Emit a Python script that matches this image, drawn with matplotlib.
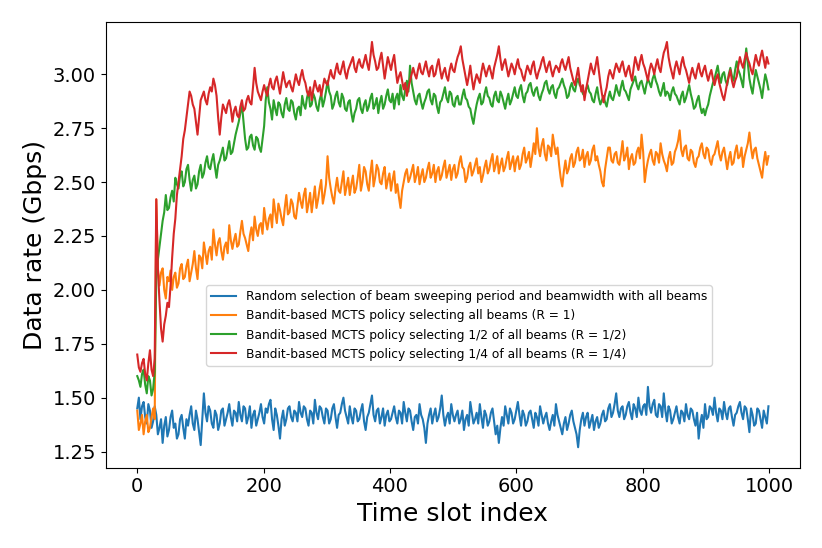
import numpy as np
import matplotlib
matplotlib.use("Agg")
import matplotlib.pyplot as plt

labels = [
    "Random selection of beam sweeping period and beamwidth with all beams",
    "Bandit-based MCTS policy selecting all beams (R = 1)",
    "Bandit-based MCTS policy selecting 1/2 of all beams (R = 1/2)",
    "Bandit-based MCTS policy selecting 1/4 of all beams (R = 1/4)",
]
colors = ["#1f77b4", "#ff7f0e", "#2ca02c", "#d62728"]

# Values read at every ~5th slot ("_a") and the in-between slots ("_b")
random_rate_a = [
    1.45, 1.40, 1.48, 1.38, 1.44, 1.39, 1.42, 1.36, 1.29, 1.41,
    1.35, 1.44, 1.38, 1.33, 1.42, 1.31, 1.37, 1.46, 1.35, 1.40,
    1.28, 1.52, 1.39, 1.44, 1.36, 1.42, 1.38, 1.45, 1.40, 1.47,
    1.37, 1.43, 1.48, 1.39, 1.45, 1.41, 1.36, 1.44, 1.40, 1.47,
    1.38, 1.43, 1.49, 1.35, 1.42, 1.31, 1.44, 1.40, 1.46, 1.39,
    1.43, 1.48, 1.41, 1.45, 1.37, 1.43, 1.49, 1.40, 1.45, 1.38,
    1.44, 1.40, 1.47, 1.36, 1.43, 1.50, 1.41, 1.46, 1.38, 1.44,
    1.40, 1.47, 1.35, 1.43, 1.51, 1.39, 1.45, 1.41, 1.37, 1.44,
    1.40, 1.46, 1.38, 1.43, 1.48, 1.39, 1.44, 1.35, 1.42, 1.47,
    1.40, 1.29, 1.42, 1.38, 1.45, 1.41, 1.51, 1.37, 1.43, 1.47,
    1.39, 1.44, 1.40, 1.35, 1.42, 1.48, 1.38, 1.43, 1.47, 1.36,
    1.42, 1.39, 1.45, 1.33, 1.29, 1.41, 1.46, 1.38, 1.43, 1.40,
    1.48, 1.37, 1.42, 1.39, 1.44, 1.36, 1.41, 1.46, 1.38, 1.43,
    1.35, 1.42, 1.47, 1.39, 1.33, 1.41, 1.38, 1.44, 1.36, 1.27,
    1.40, 1.37, 1.43, 1.39, 1.35, 1.41, 1.38, 1.44, 1.40, 1.47,
    1.43, 1.52, 1.41, 1.46, 1.42, 1.48, 1.40, 1.45, 1.50, 1.42,
    1.47, 1.55, 1.43, 1.49, 1.41, 1.46, 1.52, 1.39, 1.44, 1.40,
    1.46, 1.38, 1.43, 1.47, 1.40, 1.44, 1.37, 1.31, 1.42, 1.47,
    1.41, 1.45, 1.50, 1.39, 1.44, 1.48, 1.40, 1.46, 1.37, 1.43,
    1.48, 1.40, 1.45, 1.34, 1.42, 1.38, 1.44, 1.36, 1.41, 1.46,
]
random_rate_b = [
    1.50, 1.46, 1.41, 1.47, 1.36, 1.46, 1.33, 1.40, 1.37, 1.32,
    1.41, 1.36, 1.31, 1.40, 1.36, 1.40, 1.42, 1.38, 1.44, 1.34,
    1.40, 1.43, 1.46, 1.38, 1.44, 1.35, 1.44, 1.37, 1.43, 1.41,
    1.44, 1.39, 1.42, 1.46, 1.38, 1.46, 1.42, 1.37, 1.43, 1.41,
    1.45, 1.47, 1.40, 1.45, 1.37, 1.40, 1.37, 1.45, 1.41, 1.44,
    1.39, 1.43, 1.46, 1.40, 1.44, 1.38, 1.43, 1.46, 1.41, 1.45,
    1.38, 1.45, 1.41, 1.42, 1.47, 1.44, 1.38, 1.41, 1.45, 1.39,
    1.44, 1.39, 1.41, 1.47, 1.42, 1.44, 1.38, 1.45, 1.42, 1.39,
    1.43, 1.41, 1.44, 1.38, 1.43, 1.45, 1.39, 1.41, 1.38, 1.42,
    1.36, 1.38, 1.45, 1.42, 1.39, 1.45, 1.42, 1.41, 1.38, 1.42,
    1.42, 1.38, 1.44, 1.40, 1.37, 1.43, 1.40, 1.38, 1.41, 1.44,
    1.37, 1.43, 1.39, 1.37, 1.36, 1.37, 1.42, 1.45, 1.38, 1.44,
    1.42, 1.44, 1.37, 1.43, 1.40, 1.43, 1.37, 1.42, 1.41, 1.38,
    1.39, 1.37, 1.42, 1.36, 1.38, 1.35, 1.42, 1.39, 1.33, 1.35,
    1.43, 1.41, 1.36, 1.42, 1.39, 1.36, 1.42, 1.39, 1.45, 1.41,
    1.47, 1.44, 1.45, 1.40, 1.46, 1.43, 1.47, 1.41, 1.44, 1.46,
    1.42, 1.46, 1.47, 1.42, 1.47, 1.41, 1.44, 1.46, 1.38, 1.43,
    1.41, 1.44, 1.39, 1.42, 1.45, 1.40, 1.43, 1.38, 1.36, 1.40,
    1.46, 1.42, 1.43, 1.45, 1.40, 1.43, 1.45, 1.41, 1.42, 1.46,
    1.43, 1.46, 1.40, 1.45, 1.37, 1.45, 1.40, 1.44, 1.38,
]

mcts_r1_a = [
    1.44, 1.38, 1.33, 1.42, 1.36, 1.45, 2.42, 2.02, 2.10, 1.96,
    2.04, 2.00, 2.08, 2.03, 2.12, 2.06, 2.14, 2.08, 2.18, 2.05,
    2.15, 2.22, 2.12, 2.20, 2.28, 2.16, 2.24, 2.14, 2.22, 2.30,
    2.19, 2.26, 2.21, 2.32, 2.24, 2.18, 2.29, 2.34, 2.25, 2.31,
    2.38, 2.28, 2.35, 2.42, 2.31, 2.37, 2.30, 2.44, 2.36, 2.40,
    2.33, 2.45, 2.38, 2.47, 2.40, 2.36, 2.48, 2.42, 2.51, 2.44,
    2.62, 2.47, 2.40, 2.52, 2.45, 2.55, 2.48, 2.44, 2.53, 2.47,
    2.58, 2.50, 2.55, 2.46, 2.60, 2.52, 2.56, 2.49, 2.57, 2.51,
    2.46, 2.55, 2.49, 2.38, 2.50, 2.56, 2.52, 2.58, 2.53, 2.49,
    2.56, 2.52, 2.59, 2.54, 2.50, 2.57, 2.53, 2.60, 2.55, 2.51,
    2.58, 2.54, 2.62, 2.56, 2.52, 2.59, 2.55, 2.61, 2.57, 2.53,
    2.60, 2.56, 2.63, 2.58, 2.54, 2.61, 2.57, 2.64, 2.59, 2.55,
    2.62, 2.58, 2.66, 2.61, 2.57, 2.68, 2.75, 2.62, 2.70, 2.60,
    2.66, 2.72, 2.63, 2.58, 2.48, 2.60, 2.56, 2.63, 2.59, 2.66,
    2.61, 2.57, 2.64, 2.60, 2.67, 2.62, 2.55, 2.48, 2.61, 2.66,
    2.59, 2.64, 2.58, 2.69, 2.62, 2.56, 2.63, 2.59, 2.66, 2.72,
    2.50, 2.60, 2.65, 2.58, 2.63, 2.68, 2.60, 2.55, 2.64, 2.59,
    2.66, 2.74, 2.62, 2.67, 2.60, 2.64, 2.57, 2.62, 2.68, 2.61,
    2.65, 2.58, 2.63, 2.69, 2.60, 2.66, 2.56, 2.64, 2.59, 2.67,
    2.62, 2.57, 2.65, 2.73, 2.61, 2.66, 2.58, 2.52, 2.64, 2.62,
]
mcts_r1_b = [
    1.35, 1.42, 1.39, 1.34, 1.41, 1.40, 2.10, 2.08, 2.00, 2.06,
    2.09, 2.06, 2.01, 2.10, 2.05, 2.11, 2.04, 2.12, 2.10, 2.16,
    2.10, 2.17, 2.18, 2.14, 2.21, 2.22, 2.18, 2.20, 2.17, 2.23,
    2.23, 2.20, 2.27, 2.26, 2.21, 2.25, 2.23, 2.28, 2.30, 2.26,
    2.32, 2.33, 2.29, 2.36, 2.40, 2.33, 2.38, 2.35, 2.42, 2.34,
    2.39, 2.41, 2.44, 2.36, 2.45, 2.42, 2.38, 2.47, 2.40, 2.49,
    2.52, 2.43, 2.47, 2.46, 2.50, 2.44, 2.52, 2.49, 2.45, 2.52,
    2.46, 2.57, 2.49, 2.54, 2.48, 2.58, 2.50, 2.54, 2.47, 2.54,
    2.51, 2.45, 2.43, 2.46, 2.54, 2.50, 2.55, 2.50, 2.57, 2.53,
    2.50, 2.56, 2.52, 2.58, 2.55, 2.51, 2.57, 2.52, 2.58, 2.56,
    2.52, 2.59, 2.57, 2.50, 2.57, 2.53, 2.58, 2.54, 2.50, 2.57,
    2.54, 2.60, 2.55, 2.62, 2.58, 2.55, 2.61, 2.56, 2.62, 2.60,
    2.56, 2.63, 2.59, 2.64, 2.62, 2.63, 2.66, 2.67, 2.63, 2.67,
    2.62, 2.67, 2.66, 2.52, 2.55, 2.54, 2.61, 2.57, 2.64, 2.60,
    2.65, 2.62, 2.58, 2.65, 2.60, 2.58, 2.50, 2.56, 2.66, 2.60,
    2.63, 2.59, 2.63, 2.60, 2.66, 2.61, 2.58, 2.64, 2.61, 2.64,
    2.56, 2.63, 2.60, 2.64, 2.59, 2.63, 2.58, 2.61, 2.58, 2.64,
    2.69, 2.65, 2.66, 2.61, 2.65, 2.59, 2.61, 2.66, 2.63, 2.66,
    2.60, 2.62, 2.66, 2.63, 2.64, 2.61, 2.61, 2.58, 2.64, 2.61,
    2.66, 2.62, 2.68, 2.66, 2.65, 2.61, 2.55, 2.59, 2.58,
]

mcts_r_half_a = [
    1.60, 1.55, 1.63, 1.52, 1.58, 1.54, 2.05, 2.20, 2.32, 2.44,
    2.38, 2.46, 2.52, 2.47, 2.55, 2.50, 2.58, 2.46, 2.53, 2.49,
    2.58, 2.54, 2.62, 2.56, 2.63, 2.52, 2.60, 2.66, 2.61, 2.69,
    2.64, 2.72, 2.78, 2.86, 2.70, 2.66, 2.72, 2.65, 2.70, 2.64,
    2.76, 2.94, 2.84, 2.88, 2.81, 2.86, 2.80, 2.89, 2.83, 2.87,
    2.79, 2.85, 2.90, 2.84, 2.92, 2.86, 2.89, 2.83, 2.91, 2.88,
    2.97, 2.90, 2.86, 2.92, 2.85, 2.89, 2.83, 2.88, 2.78, 2.84,
    2.89, 2.82, 2.88, 2.85, 2.91, 2.86, 2.82, 2.90, 2.86, 2.93,
    2.87, 2.84, 2.91, 2.95, 2.88, 2.97, 3.04, 2.92, 2.86, 2.91,
    2.84, 2.89, 2.93, 2.86, 2.90, 2.82, 2.88, 2.94, 2.87, 2.91,
    2.85, 2.90, 2.86, 2.93, 2.88, 2.84, 2.77, 2.86, 2.91, 2.87,
    2.94, 2.89, 2.85, 2.92, 2.87, 2.90, 2.84, 2.91, 2.88, 2.94,
    2.89, 2.95, 2.87, 2.92, 2.96, 2.90, 2.94, 2.88, 2.93, 2.97,
    2.91, 2.95, 2.89, 2.94, 2.98, 2.93, 2.90, 2.96, 2.92, 2.98,
    2.94, 2.90, 2.95, 2.91, 2.87, 2.94, 2.86, 2.90, 2.85, 2.92,
    2.88, 2.95, 2.90, 2.97, 2.92, 2.88, 2.95, 2.99, 2.93, 2.97,
    2.91, 2.98, 2.94, 3.00, 2.95, 2.90, 2.96, 2.92, 2.88, 2.94,
    2.90, 2.86, 2.92, 2.89, 2.95, 2.88, 2.85, 2.90, 2.82, 2.81,
    2.86, 2.93, 2.98, 3.04, 2.96, 3.01, 2.95, 3.03, 2.97, 3.06,
    3.00, 2.94, 3.12, 2.98, 2.91, 3.02, 2.96, 2.89, 3.00, 2.93,
]
mcts_r_half_b = [
    1.58, 1.61, 1.56, 1.60, 1.51, 1.62, 2.14, 2.26, 2.36, 2.37,
    2.43, 2.41, 2.49, 2.53, 2.48, 2.56, 2.51, 2.51, 2.47, 2.55,
    2.52, 2.59, 2.57, 2.60, 2.57, 2.58, 2.63, 2.60, 2.65, 2.63,
    2.68, 2.75, 2.82, 2.78, 2.65, 2.71, 2.67, 2.71, 2.66, 2.70,
    2.88, 2.87, 2.79, 2.84, 2.87, 2.82, 2.86, 2.84, 2.88, 2.82,
    2.84, 2.81, 2.86, 2.89, 2.85, 2.91, 2.85, 2.88, 2.85, 2.92,
    2.92, 2.84, 2.90, 2.87, 2.91, 2.84, 2.87, 2.82, 2.82, 2.88,
    2.84, 2.86, 2.83, 2.89, 2.84, 2.89, 2.87, 2.84, 2.90, 2.88,
    2.91, 2.89, 2.86, 2.90, 2.93, 2.92, 2.96, 2.88, 2.90, 2.87,
    2.87, 2.92, 2.88, 2.91, 2.85, 2.87, 2.91, 2.89, 2.92, 2.86,
    2.89, 2.86, 2.90, 2.89, 2.85, 2.80, 2.82, 2.89, 2.86, 2.91,
    2.90, 2.86, 2.90, 2.88, 2.92, 2.87, 2.88, 2.86, 2.91, 2.90,
    2.93, 2.90, 2.91, 2.95, 2.92, 2.93, 2.90, 2.91, 2.96, 2.93,
    2.94, 2.91, 2.93, 2.96, 2.95, 2.89, 2.94, 2.93, 2.96, 2.95,
    2.91, 2.93, 2.92, 2.88, 2.91, 2.89, 2.88, 2.87, 2.89, 2.89,
    2.91, 2.92, 2.94, 2.93, 2.90, 2.93, 2.97, 2.95, 2.96, 2.94,
    2.95, 2.96, 2.98, 2.97, 2.92, 2.93, 2.90, 2.91, 2.92, 2.91,
    2.88, 2.90, 2.87, 2.92, 2.91, 2.84, 2.88, 2.85, 2.84, 2.84,
    2.90, 2.96, 3.01, 2.99, 3.00, 2.97, 3.00, 2.99, 3.02, 3.02,
    2.97, 3.04, 3.05, 2.94, 2.97, 2.99, 2.93, 2.95, 2.97,
]

mcts_r_quarter_a = [
    1.70, 1.62, 1.68, 1.58, 1.72, 1.60, 2.42, 1.95, 1.76, 1.88,
    1.92, 2.15, 2.33, 2.50, 2.62, 2.74, 2.86, 2.90, 2.84, 2.72,
    2.88, 2.92, 2.86, 2.94, 2.98, 2.90, 2.72, 2.86, 2.82, 2.88,
    2.78, 2.85, 2.80, 2.88, 2.84, 2.90, 2.86, 3.03, 2.92, 2.88,
    2.95, 2.90, 2.98, 2.93, 2.99, 2.91, 3.01, 2.94, 2.97, 2.92,
    3.00, 2.95, 3.02, 2.96, 2.90, 2.88, 2.97, 2.92, 2.90, 2.98,
    2.95, 3.02, 2.98, 3.05, 3.00, 3.06, 2.98, 3.04, 3.08, 3.01,
    3.07, 3.03, 3.09, 3.02, 3.15, 3.06, 3.03, 3.10, 2.98, 3.08,
    3.02, 3.09, 2.96, 3.01, 2.93, 2.90, 2.97, 3.03, 2.98, 3.05,
    3.00, 3.06, 2.99, 3.04, 3.00, 3.07, 2.98, 3.03, 2.97, 3.05,
    3.01, 3.08, 3.13, 3.03, 2.95, 3.04, 2.93, 3.00, 2.96, 3.05,
    2.99, 3.04, 2.98, 3.06, 3.13, 3.02, 3.07, 2.99, 3.05, 3.00,
    3.07, 3.02, 2.97, 3.04, 3.00, 3.06, 2.98, 3.03, 3.08, 3.01,
    3.06, 2.99, 3.04, 3.01, 3.07, 3.02, 3.08, 3.00, 2.95, 3.03,
    2.92, 2.88, 2.97, 3.05, 3.00, 3.08, 2.96, 2.87, 2.94, 3.02,
    2.98, 3.05, 3.01, 3.06, 2.99, 3.04, 2.97, 3.08, 3.02, 3.09,
    3.03, 2.97, 3.05, 3.00, 3.07, 3.01, 3.10, 3.15, 3.04, 2.98,
    3.06, 3.00, 3.08, 3.02, 2.96, 3.03, 2.98, 3.05, 2.99, 3.04,
    2.97, 3.02, 2.95, 3.00, 2.93, 2.88, 2.96, 3.02, 2.94, 2.99,
    3.08, 3.03, 3.10, 3.05, 3.00, 3.09, 3.04, 3.11, 3.03, 3.05,
]
mcts_r_quarter_b = [
    1.64, 1.66, 1.61, 1.66, 1.63, 1.68, 2.10, 1.82, 1.84, 1.94,
    2.02, 2.26, 2.44, 2.56, 2.70, 2.80, 2.92, 2.86, 2.78, 2.80,
    2.90, 2.88, 2.91, 2.92, 2.95, 2.80, 2.80, 2.84, 2.86, 2.84,
    2.83, 2.81, 2.85, 2.83, 2.88, 2.87, 2.94, 2.96, 2.90, 2.92,
    2.92, 2.95, 2.94, 2.97, 2.95, 2.96, 2.97, 2.96, 2.94, 2.96,
    2.97, 2.99, 2.98, 2.92, 2.94, 2.93, 2.94, 2.95, 2.94, 2.96,
    2.99, 2.99, 3.02, 3.01, 3.03, 3.01, 3.02, 3.06, 3.03, 3.05,
    3.04, 3.06, 3.05, 3.08, 3.09, 3.02, 3.07, 3.04, 3.03, 3.05,
    3.06, 3.02, 2.99, 2.97, 2.96, 2.94, 3.00, 3.00, 3.02, 3.01,
    3.03, 3.02, 3.03, 2.99, 3.04, 3.02, 3.01, 2.99, 3.02, 3.02,
    3.05, 3.10, 3.07, 2.99, 2.99, 2.98, 2.97, 2.98, 3.01, 3.02,
    3.02, 3.01, 3.03, 3.09, 3.07, 3.05, 3.03, 3.02, 3.03, 3.04,
    3.03, 2.99, 3.01, 3.02, 3.04, 3.01, 3.01, 3.06, 3.04, 3.04,
    3.02, 3.02, 3.03, 3.05, 3.04, 3.05, 3.03, 2.97, 2.99, 2.97,
    2.95, 2.93, 3.01, 3.02, 3.04, 3.02, 2.91, 2.91, 2.99, 3.00,
    3.02, 3.03, 3.04, 3.02, 3.02, 3.00, 3.03, 3.05, 3.06, 3.05,
    3.00, 3.02, 3.03, 3.04, 3.03, 3.06, 3.12, 3.08, 3.01, 3.03,
    3.03, 3.05, 3.04, 2.99, 3.00, 3.00, 3.02, 3.01, 3.02, 3.00,
    3.00, 2.98, 2.98, 2.96, 2.90, 2.92, 2.99, 2.97, 2.97, 3.04,
    3.05, 3.07, 3.07, 3.02, 3.05, 3.06, 3.08, 3.07, 3.08,
]

series_parts = [
    (random_rate_a, random_rate_b),
    (mcts_r1_a, mcts_r1_b),
    (mcts_r_half_a, mcts_r_half_b),
    (mcts_r_quarter_a, mcts_r_quarter_b),
]


def merge(a, b):
    out = np.empty(len(a) + len(b))
    out[0::2] = a
    out[1::2] = b
    return out


n_points = len(random_rate_a) + len(random_rate_b)
time_slots = np.linspace(0, 999, n_points)

fig = plt.figure(figsize=(8.22, 5.48), dpi=100)
ax = fig.add_axes([105.7 / 822, 1 - 467.5 / 548, (800 - 105.7) / 822, (467.5 - 21.7) / 548])

for (a, b), lab, col in zip(series_parts, labels, colors):
    ax.plot(time_slots, merge(a, b), color=col, linewidth=1.5, label=lab)

ax.set_xlabel("Time slot index", fontsize=18)
ax.set_ylabel("Data rate (Gbps)", fontsize=18)
ax.tick_params(axis="both", labelsize=14)
ax.set_xticks([0, 200, 400, 600, 800, 1000])
ax.set_yticks([1.25, 1.50, 1.75, 2.00, 2.25, 2.50, 2.75, 3.00])

ax.legend(loc="center", bbox_to_anchor=(0.509, 0.3185), fontsize=8.8)

fig.savefig("out.png", dpi=100)
